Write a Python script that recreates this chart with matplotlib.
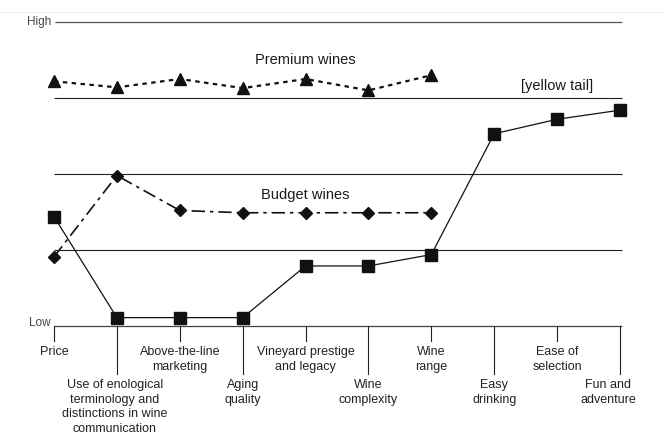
import matplotlib.pyplot as plt
from matplotlib.lines import Line2D

plt.rcParams['font.family'] = ['Liberation Sans', 'DejaVu Sans']

# === データ ===
factors = ['Price',
           'Use of enological\nterminology and\ndistinctions in wine\ncommunication',
           'Above-the-line\nmarketing',
           'Aging\nquality',
           'Vineyard prestige\nand legacy',
           'Wine\ncomplexity',
           'Wine\nrange',
           'Easy\ndrinking',
           'Ease of\nselection',
           'Fun and\nadventure']
premium = [3.22, 3.14, 3.25, 3.13, 3.25, 3.10, 3.30]
budget = [0.91, 1.98, 1.52, 1.49, 1.49, 1.49, 1.49]
yellow_tail = [1.44, 0.11, 0.11, 0.11, 0.79, 0.79, 0.94, 2.53, 2.72, 2.84]

W, H = 665, 447
x0, x9 = 54, 620          # pixel x of first / last factor
y_low, y_high = 326, 22   # pixel y of Low / High

fig = plt.figure(figsize=(W / 100, H / 100), dpi=100)
ax = fig.add_axes([x0 / W, (H - y_low) / H, (x9 - x0) / W, (y_low - y_high) / H])
ax.set_xlim(0, len(factors) - 1)
ax.set_ylim(0, 4)
ax.axis('off')

# 枠線
ax.hlines(4, 0.02, 9.03, color='#555555', lw=0.9, clip_on=False)
for lv in [1, 2, 3]:
    ax.hlines(lv, 0, 9.03, color='#222222', lw=0.8, clip_on=False)
ax.hlines(0, 0, 9.03, color='#444444', lw=0.9, clip_on=False)
fig.add_artist(Line2D([0, 1], [1 - 12 / H, 1 - 12 / H], color='#f0f0f0', lw=0.8))

unit = (y_low - y_high) / 4  # px per level
short_len = 15 / unit
long_len = 48 / unit

for i, name in enumerate(factors):
    long_tick = i % 2 == 1
    ln = long_len if long_tick else short_len
    ax.plot([i, i], [0, -ln], color='#222222', lw=0.8, clip_on=False)
    xt = i
    if i == len(factors) - 1:
        xt = i - 12 / 63
    elif i == 1:
        xt = i - 2 / 63
    top = -(ln + 5 / unit)
    ax.text(xt, top, name, ha='center', va='top', fontsize=9, color='#222222',
            linespacing=1.28, clip_on=False)

ax.text(-0.04, 4, 'High', ha='right', va='center', fontsize=8.5, color='#444444')
ax.text(-0.06, 0.04, 'Low', ha='right', va='center', fontsize=8.5, color='#444444')

xs = list(range(len(factors)))
ax.plot(xs[:len(premium)], premium, color='#111111', lw=1.6, ls=(0, (2, 2)),
        marker='^', ms=8, clip_on=False)
ax.plot(xs[:len(budget)], budget, color='#111111', lw=1.2, ls=(0, (8, 3, 2, 3)),
        marker='D', ms=6.5, clip_on=False)
ax.plot(xs, yellow_tail, color='#111111', lw=0.9, ls='-',
        marker='s', ms=8.5, clip_on=False)

ax.text(4, (y_low - 60) / unit, 'Premium wines', ha='center', va='center',
        fontsize=10.5, color='#1a1a1a')
ax.text(4, (y_low - 195) / unit, 'Budget wines', ha='center', va='center',
        fontsize=10.5, color='#1a1a1a')
ax.text(8.0, (y_low - 86) / unit, '[yellow tail]', ha='center', va='center',
        fontsize=10.5, color='#1a1a1a')

plt.savefig('out.png', dpi=100)
